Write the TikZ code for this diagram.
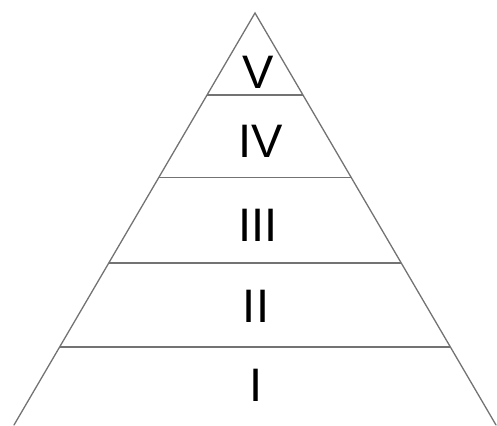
\documentclass[tikz,border=0pt]{standalone}
\usepackage{fontspec}
\setmainfont{Liberation Sans}
\usetikzlibrary{calc}
\begin{document}
\begin{tikzpicture}[x=1pt,y=-1pt,
  edge/.style={draw=black!55,line width=1.3pt,line cap=round},
  level/.style={draw=black!55,line width=1.3pt},
  lab/.style={font=\fontsize{47}{47}\selectfont,text=black,inner sep=0pt,anchor=center}]
\useasboundingbox (0,0) rectangle (497,425);
\coordinate (apex) at (255,13);
\coordinate (bl) at (14,425);
\coordinate (br) at (496,425);
\draw[edge] (bl) -- (apex) -- (br);
\foreach \t/\n in {0.199/a,0.40/b,0.607/c,0.811/d}{
  \coordinate (l\n) at ($(apex)!\t!(bl)$);
  \coordinate (r\n) at ($(apex)!\t!(br)$);
  \draw[level] (l\n) -- (r\n);
}
\node[lab] (v) at (258,72) {V};
\node[lab] (iv) at (261,141) {IV};
\node[lab] (iii) at (258,225) {III};
\node[lab] (ii) at (256,306) {II};
\node[lab] (i) at (256,385) {I};
\end{tikzpicture}
\end{document}
